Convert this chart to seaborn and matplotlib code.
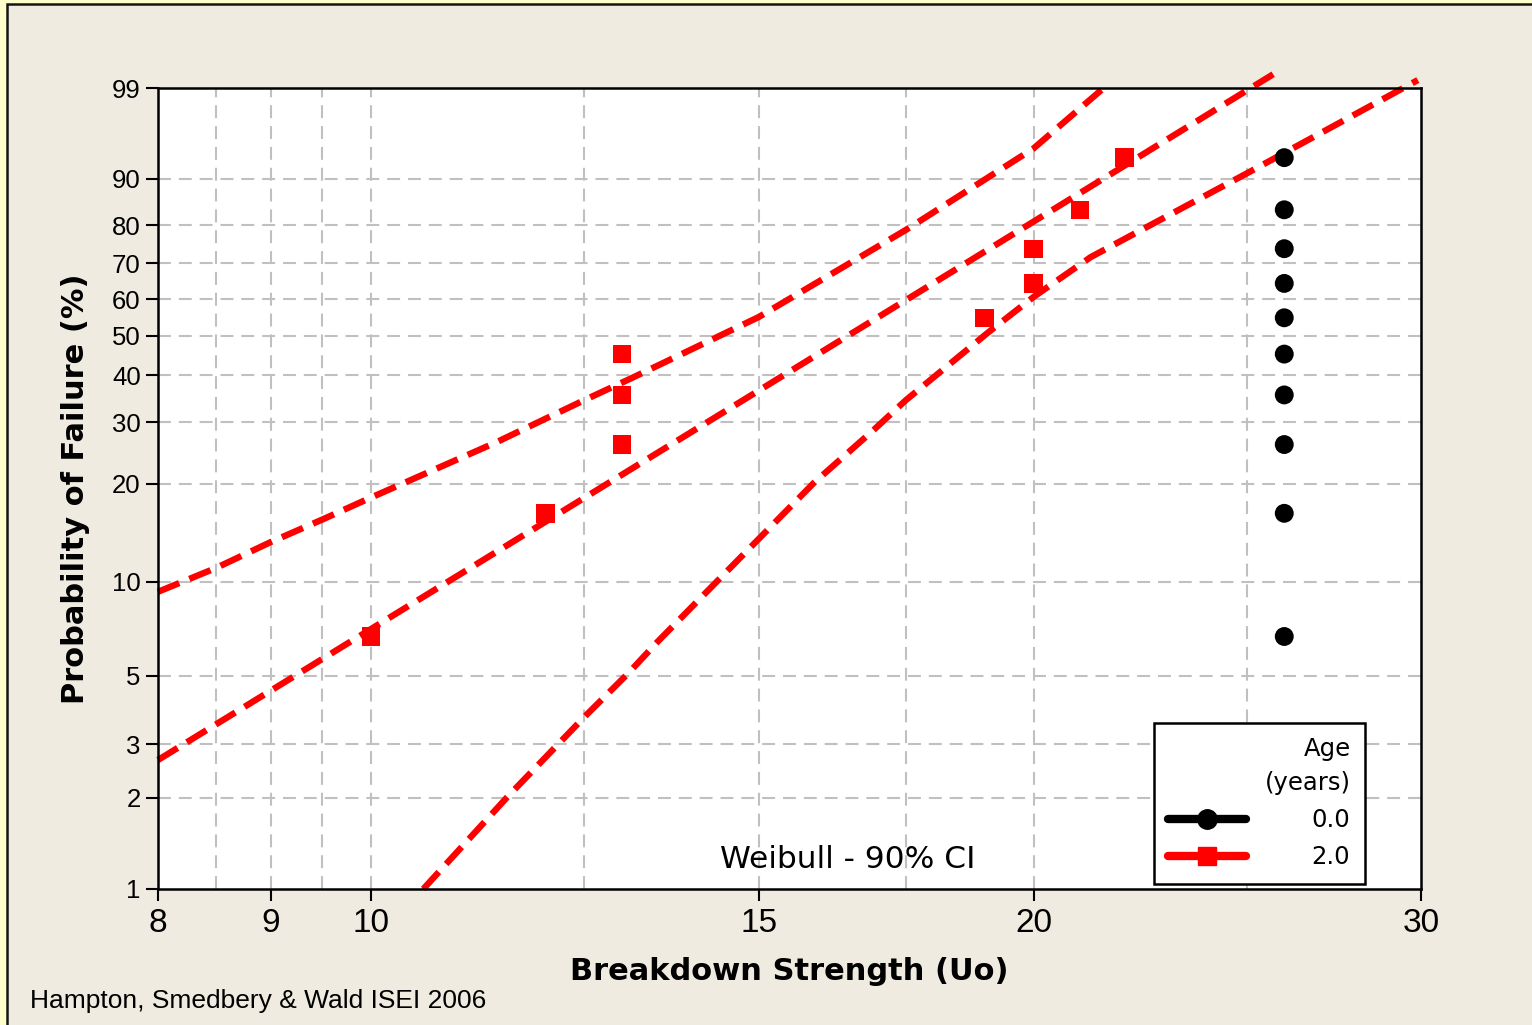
import numpy as np
import pandas as pd
import matplotlib
matplotlib.use("Agg")
import matplotlib.pyplot as plt
from matplotlib import font_manager
from matplotlib.lines import Line2D
from matplotlib.patches import Rectangle
from matplotlib.ticker import NullLocator
import seaborn as sns

# ---------------- data ----------------
age0_strength = [26, 26, 26, 26, 26, 26, 26, 26, 26, 26]
age0_pct = [6.7, 16.3, 26.0, 35.6, 45.2, 54.8, 64.4, 74.0, 83.7, 93.3]

age2_strength = [10, 12, 13, 13, 13, 19, 20, 20, 21, 22]
age2_pct = [6.7, 16.3, 26.0, 35.6, 45.2, 54.8, 64.4, 74.0, 83.7, 93.3]

fit_strength = [8.0, 25.7]
fit_pct = [2.66, 99.4]

upper_ci_strength = [8.0, 8.5, 9.0, 9.5, 10.0, 11.4, 12.5, 13.16, 15.0, 17.5, 20.0, 21.6]
upper_ci_pct = [9.3, 11.05, 13.3, 15.6, 18.2, 26.4, 34.5, 39.6, 55.0, 78.9, 94.5, 99.1]

lower_ci_strength = [10.56, 11.53, 12.5, 13.09, 13.49, 15.89, 16.92, 17.5, 19.06, 20.0, 21.23, 25.06, 29.9]
lower_ci_pct = [1.0, 2.01, 3.68, 5.11, 6.43, 20.1, 28.6, 34.5, 50.7, 60.6, 71.7, 91.1, 99.25]

x_tick_values = [8, 9, 10, 15, 20, 30]
x_tick_labels = ["8", "9", "10", "15", "20", "30"]
y_tick_values = [1, 2, 3, 5, 10, 20, 30, 40, 50, 60, 70, 80, 90, 99]
y_tick_labels = ["1", "2", "3", "5", "10", "20", "30", "40", "50", "60", "70", "80", "90", "99"]
x_grid = [8.5, 9, 9.5, 10, 12.5, 15, 17.5, 20, 25]
y_grid = [2, 3, 5, 10, 20, 30, 40, 50, 60, 70, 80, 90]

legend_title = "Age\n(years)"
legend_labels = ["0.0", "2.0"]

# ---------------- style ----------------
sns.set_theme(style="white")
plt.rcParams["font.family"] = ["DejaVu Sans"]
plt.rcParams["text.color"] = "black"


def pick(cands):
    for c in cands:
        try:
            font_manager.findfont(font_manager.FontProperties(family=c),
                                  fallback_to_default=False)
            return c
        except Exception:
            pass
    return "DejaVu Sans"


NARROW = pick(["Liberation Sans Narrow", "Liberation Sans", "Roboto"])
if NARROW == "Liberation Sans Narrow":
    xt_size, yt_size, foot_size = 27, 21, 23
else:
    xt_size, yt_size, foot_size = 24, 18.5, 19

RED = "#FF0000"
W, H = 1532, 1025
fig = plt.figure(figsize=(W / 100, H / 100), dpi=100, facecolor="#FFFFCC")
fig.patches.append(Rectangle((7 / W, -0.05), 1.2, 1 - 4 / H + 0.05,
                             transform=fig.transFigure, facecolor="#EFEBE0",
                             edgecolor="#151515", lw=1.8, zorder=-10))

ax = fig.add_axes([158 / W, 1 - 889 / H, (1421 - 158) / W, (889 - 88) / H])
ax.set_facecolor("white")


def fwd(p):
    p = np.clip(np.asarray(p, dtype=float), 1e-6, 100 - 1e-6)
    return np.log(-np.log(1 - p / 100.0))


def inv(w):
    w = np.asarray(w, dtype=float)
    return 100.0 * (1 - np.exp(-np.exp(w)))


ax.set_xscale("log")
ax.set_yscale("function", functions=(fwd, inv))

# grid
for gx in x_grid:
    ax.axvline(gx, color="#C0C0C0", lw=1.5, ls=(0, (6.2, 3.8)), zorder=0)
for gy in y_grid:
    ax.axhline(gy, color="#C0C0C0", lw=1.5, ls=(0, (6.2, 3.8)), zorder=0)

# fit and confidence lines
dash = (0, (3.6, 1.7))
for xs, ps in [(fit_strength, fit_pct),
               (upper_ci_strength, upper_ci_pct),
               (lower_ci_strength, lower_ci_pct)]:
    sns.lineplot(x=xs, y=ps, ax=ax, color=RED, lw=4.6, linestyle=dash,
                 sort=False, estimator=None, clip_on=False, zorder=4,
                 legend=False)

# points
df0 = pd.DataFrame({"strength": age0_strength, "pct": age0_pct})
df2 = pd.DataFrame({"strength": age2_strength, "pct": age2_pct})
sns.scatterplot(data=df0, x="strength", y="pct", ax=ax, color="black",
                marker="o", s=185, edgecolor="none", linewidth=0, zorder=5,
                legend=False, clip_on=False)
sns.scatterplot(data=df2, x="strength", y="pct", ax=ax, color=RED,
                marker="s", s=175, edgecolor="none", linewidth=0, zorder=5,
                legend=False, clip_on=False)

ax.set_xlim(8, 30)
ax.set_ylim(1, 99)

ax.set_xticks(x_tick_values)
ax.set_xticklabels(x_tick_labels)
ax.set_yticks(y_tick_values)
ax.set_yticklabels(y_tick_labels)
ax.xaxis.set_minor_locator(NullLocator())
ax.yaxis.set_minor_locator(NullLocator())
ax.tick_params(axis="both", which="major", direction="out", length=8.5,
               width=1.5, color="black", bottom=True, left=True,
               labelcolor="black")
ax.tick_params(axis="x", pad=5)
ax.tick_params(axis="y", pad=4)
for lab in ax.get_xticklabels():
    lab.set_fontfamily(NARROW)
    lab.set_fontsize(xt_size)
for lab in ax.get_yticklabels():
    lab.set_fontfamily(NARROW)
    lab.set_fontsize(yt_size)

for sp in ax.spines.values():
    sp.set_color("black")
    sp.set_linewidth(1.8)
    sp.set_zorder(6)

ax.set_xlabel("Breakdown Strength (Uo)", fontsize=22, fontweight="bold",
              color="black", va="center")
ax.xaxis.set_label_coords(0.5, -0.103)
ax.set_ylabel("Probability of Failure (%)", fontsize=22, fontweight="bold",
              color="black", va="center")
ax.yaxis.set_label_coords(-0.0657, 0.5)

ax.text(0.5463, 0.037, "Weibull - 90% CI", transform=ax.transAxes,
        ha="center", va="center", fontsize=22.5, color="black", zorder=7)

fig.text(30 / W, 1 - 1001 / H, "Hampton, Smedbery & Wald ISEI 2006",
         family=NARROW, fontsize=foot_size, ha="left", va="center",
         color="black")

# legend
h0 = Line2D([], [], color="black", lw=6, marker="o", ms=14, label=legend_labels[0])
h1 = Line2D([], [], color=RED, lw=6, marker="s", ms=13, label=legend_labels[1])
leg = ax.legend(handles=[h0, h1], title=legend_title, loc="lower right",
                bbox_to_anchor=(0.9557, 0.0062), borderaxespad=0,
                frameon=True, fancybox=False, edgecolor="black", framealpha=1,
                facecolor="white", fontsize=17.5, title_fontsize=17.5,
                handlelength=3.2, handletextpad=2.7, labelspacing=0.55,
                borderpad=0.6, alignment="right", labelcolor="black")
leg.get_frame().set_linewidth(1.8)
leg.get_title().set_multialignment("right")
leg.get_title().set_linespacing(1.5)
leg.get_title().set_color("black")
leg.set_zorder(8)

fig.savefig("out.png", dpi=100, facecolor=fig.get_facecolor())
